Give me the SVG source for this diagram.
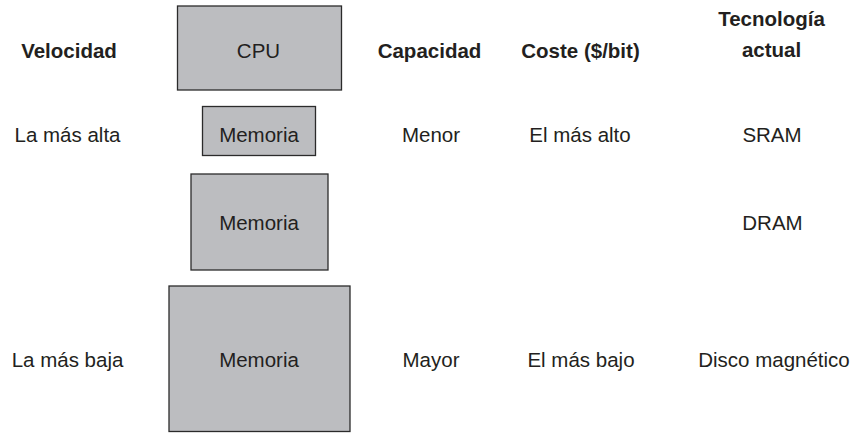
<svg xmlns="http://www.w3.org/2000/svg" width="859" height="433" viewBox="0 0 859 433">
<style>
.box{fill:#bcbdc0;stroke:#2b2b2b;stroke-width:1.3}
text{font-family:"Liberation Sans",Arial,sans-serif;font-size:20.5px;fill:#231f20;text-anchor:middle}
.b{font-weight:bold}
</style>
<rect width="859" height="433" fill="#fff"/>
<g id="headers">
<text class="b" x="69" y="57.5">Velocidad</text>
<text class="b" x="429.5" y="57.5">Capacidad</text>
<text class="b" x="580.5" y="57.5">Coste ($/bit)</text>
<text class="b" x="771.5" y="26">Tecnología</text>
<text class="b" x="771.5" y="57">actual</text>
</g>
<g id="cpu"><rect class="box" x="177.5" y="6" width="164" height="84"/><text x="258.5" y="58">CPU</text></g>
<g id="mem1"><rect class="box" x="202.5" y="106.5" width="113" height="49"/><text x="259" y="141.5">Memoria</text></g>
<g id="mem2"><rect class="box" x="191" y="174" width="137" height="96"/><text x="259" y="230">Memoria</text></g>
<g id="mem3"><rect class="box" x="169" y="286" width="181" height="145.5"/><text x="259" y="366.5">Memoria</text></g>
<g id="labels">
<text x="67.5" y="141.5">La más alta</text>
<text x="431" y="141.5">Menor</text>
<text x="580" y="141.5">El más alto</text>
<text x="772" y="141.5">SRAM</text>
<text x="772.5" y="230">DRAM</text>
<text x="67.5" y="366.5">La más baja</text>
<text x="431" y="366.5">Mayor</text>
<text x="581" y="366.5">El más bajo</text>
<text x="774" y="366.5">Disco magnético</text>
</g>
<g id="connectors"/>
</svg>
